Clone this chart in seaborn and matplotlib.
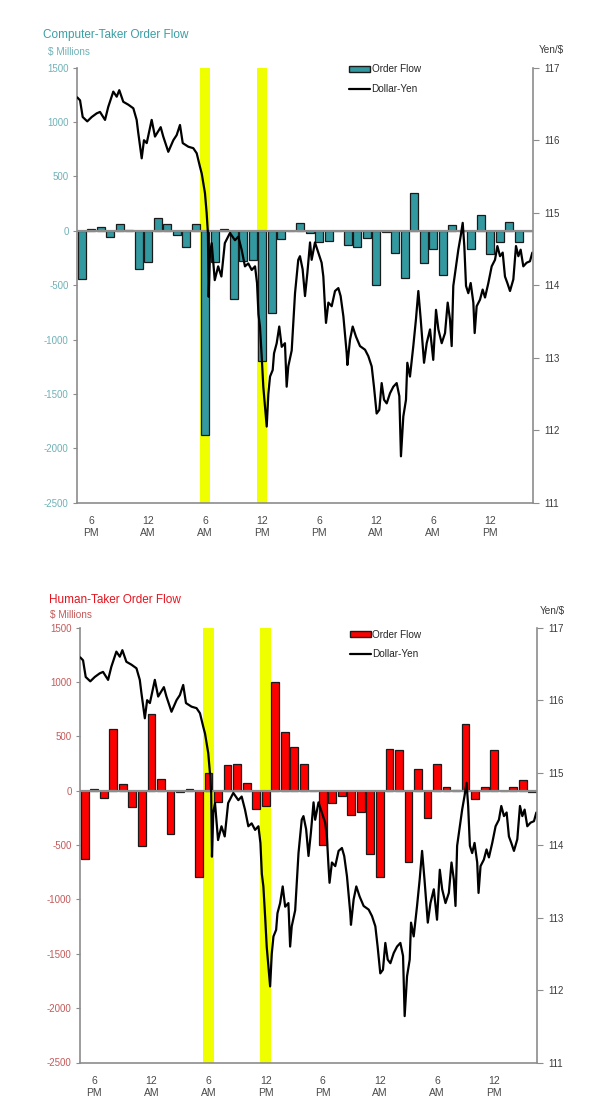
import numpy as np
import matplotlib
matplotlib.use("Agg")
import matplotlib.pyplot as plt
import seaborn as sns
from matplotlib.patches import Patch
from matplotlib.lines import Line2D

# hourly buckets shown on the x axis (48 hours, starting 5 PM)
hour_index = list(range(48))
tick_pos = [1, 7, 13, 19, 25, 31, 37, 43]
tick_labels = ["6\nPM", "12\nAM", "6\nAM", "12\nPM", "6\nPM", "12\nAM", "6\nAM", "12\nPM"]

# highlighted hours (yellow bands)
highlight_hours = [13, 19]

# order flow, $ millions per hour
computer_flow = [-440, 20, 35, -60, 60, 10, -350, -285, 115, 65, -40, -145,
                 65, -1880, -285, 15, -630, -280, -265, -1200, -760, -75, 0, 70,
                 -20, -100, -90, 0, -130, -150, -70, -500, -10, -200, -430, 350,
                 -295, -165, -405, 50, 0, -170, 150, -210, -100, 80, -100, 0]
human_flow = [-630, 15, -70, 570, 60, -150, -510, 710, 105, -395, -15, 20,
              -795, 165, -100, 235, 245, 75, -170, -140, 1000, 545, 400, 245,
              0, -500, -115, -45, -225, -200, -585, -790, 385, 375, -655, 200,
              -255, 250, 35, 10, 615, -80, 30, 375, 0, 35, 100, -10]

# dollar-yen, hours from left edge of the chart
yen_hours = [0.03, 0.32, 0.6, 1.08, 1.55, 2.07, 2.42, 2.95, 3.29, 3.82, 4.18, 4.45,
             4.87, 5.4, 5.93, 6.28, 6.45, 6.81, 7.05, 7.34, 7.86, 8.21, 8.81, 9.08,
             9.61, 10.14, 10.49, 10.84, 11.13, 11.72, 12.24, 12.6, 12.95, 13.13, 13.47, 13.65,
             13.78, 13.86, 14.0, 14.18, 14.5, 14.86, 15.2, 15.56, 16.1, 16.63, 16.98, 17.33,
             17.68, 18.03, 18.39, 18.74, 18.95, 19.1, 19.26, 19.45, 19.61, 19.79, 19.97, 20.14,
             20.32, 20.6, 20.74, 21.02, 21.29, 21.55, 21.89, 22.07, 22.24, 22.6, 22.95, 23.29,
             23.47, 23.75, 24.0, 24.25, 24.53, 24.7, 25.05, 25.4, 25.75, 25.93, 26.1, 26.21,
             26.46, 26.81, 27.16, 27.51, 27.75, 28.04, 28.39, 28.46, 28.74, 29.02, 29.37, 29.79,
             30.32, 30.67, 31.02, 31.26, 31.54, 31.82, 32.07, 32.32, 32.6, 32.95, 33.3, 33.65,
             33.93, 34.1, 34.35, 34.63, 34.77, 35.05, 35.4, 35.68, 35.93, 36.18, 36.39, 36.53,
             36.81, 37.16, 37.5, 37.79, 38.04, 38.39, 38.74, 39.02, 39.26, 39.44, 39.61, 39.89,
             40.14, 40.39, 40.6, 40.77, 40.95, 41.19, 41.44, 41.72, 41.86, 42.07, 42.42, 42.7,
             42.95, 43.3, 43.65, 44.0, 44.25, 44.53, 44.81, 45.05, 45.3, 45.58, 45.93, 46.21,
             46.46, 46.7, 46.98, 47.33, 47.68, 47.93]
yen_rate = [116.59, 116.55, 116.32, 116.26, 116.32, 116.37, 116.39, 116.28, 116.46, 116.67, 116.60, 116.69,
            116.53, 116.49, 116.44, 116.28, 116.10, 115.75, 116.0, 115.96, 116.28, 116.05, 116.18, 116.05,
            115.84, 116.0, 116.07, 116.21, 115.96, 115.91, 115.89, 115.82, 115.63, 115.54, 115.27, 114.99,
            114.72, 113.84, 114.45, 114.58, 114.07, 114.26, 114.12, 114.58, 114.72, 114.62, 114.67, 114.49,
            114.26, 114.30, 114.21, 114.26, 114.03, 113.6, 113.43, 113.0, 112.6, 112.32, 112.05, 112.5,
            112.74, 112.83, 113.06, 113.2, 113.43, 113.15, 113.2, 112.6, 112.88, 113.1, 113.89, 114.35,
            114.40, 114.22, 113.85, 114.17, 114.59, 114.35, 114.59, 114.45, 114.31, 114.12, 113.71, 113.48,
            113.76, 113.71, 113.92, 113.96, 113.85, 113.57, 113.06, 112.90, 113.25, 113.43, 113.29, 113.16,
            113.11, 113.02, 112.88, 112.60, 112.23, 112.28, 112.65, 112.42, 112.37, 112.51, 112.60, 112.65,
            112.47, 111.64, 112.19, 112.42, 112.93, 112.74, 113.16, 113.53, 113.92, 113.53, 113.16, 112.93,
            113.2, 113.39, 112.97, 113.66, 113.39, 113.2, 113.34, 113.76, 113.53, 113.16, 113.99, 114.26,
            114.49, 114.68, 114.86, 114.54, 113.99, 113.89, 114.03, 113.76, 113.34, 113.71, 113.80, 113.94,
            113.83, 114.03, 114.26, 114.35, 114.54, 114.40, 114.45, 114.12, 114.03, 113.92, 114.08, 114.54,
            114.40, 114.49, 114.26, 114.31, 114.33, 114.45]

W, H = 600, 1115
GRAY = "#8c8c8c"
YELLOW = "#F0FF00"

sns.set_style("white")
plt.rcParams['font.family'] = ['Liberation Sans', 'DejaVu Sans']
plt.rcParams['axes.unicode_minus'] = False

fig = plt.figure(figsize=(W / 100, H / 100), dpi=100)


def px_axes(left, top, right, bottom):
    return fig.add_axes([left / W, 1 - bottom / H, (right - left) / W, (bottom - top) / H])


def draw_panel(box, flow, bar_color, title, title_color, label_color, text_pos):
    ax = px_axes(*box)

    for h in highlight_hours:
        ax.axvspan(h - 0.55, h + 0.55, color=YELLOW, zorder=0, lw=0)

    sns.barplot(x=hour_index, y=flow, color=bar_color, saturation=1, width=0.82,
                edgecolor="#1a1a1a", linewidth=0.9, errorbar=None, ax=ax, zorder=1)
    ax.axhline(0, color=GRAY, lw=1.6, zorder=2)

    ax.set_xlim(-0.5, 47.5)
    ax.set_ylim(-2500, 1500)
    ax.set_yticks(range(-2500, 1501, 500))
    ax.set_xticks(tick_pos)
    ax.set_xticklabels(tick_labels, fontsize=7.5, color="#4a4a4a", linespacing=1.25)
    ax.set_xticks(np.arange(-0.5, 48, 1), minor=True)
    ax.tick_params(axis='x', which='major', length=0, pad=9.5)
    ax.tick_params(axis='x', which='minor', length=3, width=0.8, color=GRAY, direction='out')
    ax.tick_params(axis='y', length=3, width=0.8, color=GRAY, labelsize=7, labelcolor=label_color, pad=3)
    ax.set_xlabel("")
    ax.set_ylabel("")
    for s in ["top", "right"]:
        ax.spines[s].set_visible(False)
    for s in ["left", "bottom"]:
        ax.spines[s].set_color(GRAY)
        ax.spines[s].set_linewidth(1.2)

    ax2 = ax.twinx()
    sns.lineplot(x=np.array(yen_hours) - 0.5, y=yen_rate, color="black", linewidth=1.6,
                 sort=False, estimator=None, ax=ax2)
    ax2.set_ylim(111, 117)
    ax2.set_yticks(range(111, 118))
    ax2.set_ylabel("")
    ax2.tick_params(axis='y', length=4, width=0.8, color=GRAY, labelsize=7, labelcolor="#3a3a3a", pad=4)
    for s in ["top", "left", "bottom"]:
        ax2.spines[s].set_visible(False)
    ax2.spines["right"].set_color(GRAY)
    ax2.spines["right"].set_linewidth(1.2)

    (tx, ty), (mx, my), (yx, yy), (lx, ly) = text_pos
    fig.text(tx / W, 1 - ty / H, title, color=title_color, fontsize=8.5, va='center', ha='left')
    fig.text(mx / W, 1 - my / H, "$ Millions", color=label_color, fontsize=7.2, va='center', ha='left')
    fig.text(yx / W, 1 - yy / H, "Yen/$", color="#3a3a3a", fontsize=7.2, va='center', ha='left')

    handles = [Patch(facecolor=bar_color, edgecolor="#1a1a1a", linewidth=1.0),
               Line2D([0], [0], color="black", lw=1.6)]
    fig.legend(handles, ["Order Flow", "Dollar-Yen"], loc='upper left',
               bbox_to_anchor=(lx / W, 1 - ly / H), frameon=False, fontsize=7.2,
               handlelength=2.1, handleheight=0.6, handletextpad=0.15,
               labelspacing=0.95, borderpad=0, borderaxespad=0)
    return ax, ax2


draw_panel((77, 67.7, 533, 502.7), computer_flow, "#3399A0",
           "Computer-Taker Order Flow", "#3A9EA5", "#6FB2B7",
           [(43, 35), (48, 52), (539, 50), (349, 64.5)])

draw_panel((80, 627.7, 537, 1062.5), human_flow, "#FF0000",
           "Human-Taker Order Flow", "#E3141E", "#C45A5A",
           [(49, 600), (50, 615), (540, 611), (350, 629.5)])

fig.savefig("out.png", dpi=100)
